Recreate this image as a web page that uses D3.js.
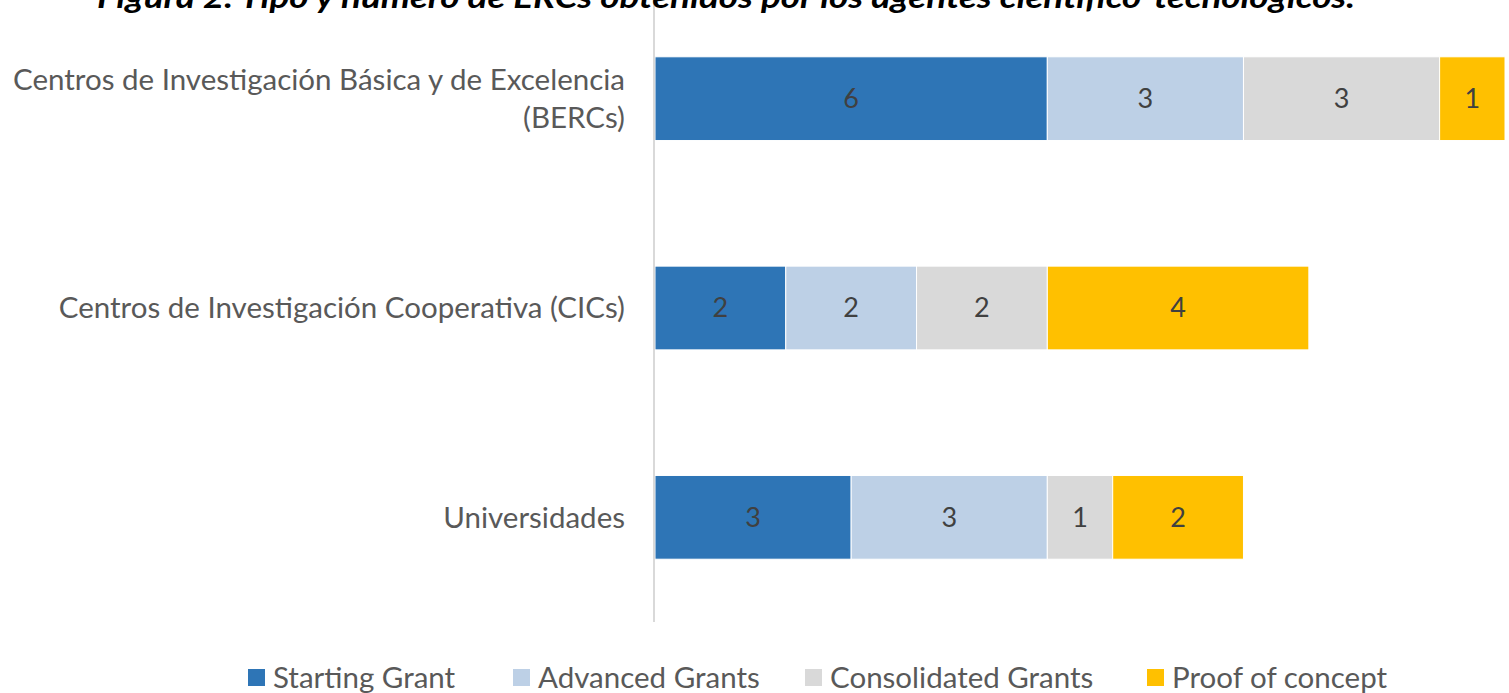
<!DOCTYPE html>
<html>
<head>
<meta charset="utf-8">
<script src="https://cdn.jsdelivr.net/npm/d3@7"></script>
<style>
  body { margin: 0; background: #fff; }
  svg { display: block; }
</style>
</head>
<body>
<div id="chart"></div>
<script>
// categories, series and values
var categories = ["Centros de Investigación Básica y de Excelencia (BERCs)",
                  "Centros de Investigación Cooperativa (CICs)",
                  "Universidades"];
var categoryLines = [["Centros de Investigación Básica y de Excelencia", "(BERCs)"],
                     ["Centros de Investigación Cooperativa (CICs)"],
                     ["Universidades"]];
var seriesNames = ["Starting Grant", "Advanced Grants", "Consolidated Grants", "Proof of concept"];
var seriesColors = ["#2E75B6", "#BDD0E6", "#D9D9D9", "#FFC000"];
var startingGrant = [6, 2, 3];
var advancedGrants = [3, 2, 3];
var consolidatedGrants = [3, 2, 1];
var proofOfConcept = [1, 4, 2];
var title = "Figura 2. Tipo y número de ERCs obtenidos por los agentes científico-tecnológicos.";

var W = 1509, H = 693;
var font = "Lato, 'Open Sans', sans-serif";

var svg = d3.select("#chart").append("svg")
  .attr("width", W).attr("height", H);

// build stacked table
var table = categories.map(function(c, i) {
  return {cat: c, i: i,
    "Starting Grant": startingGrant[i],
    "Advanced Grants": advancedGrants[i],
    "Consolidated Grants": consolidatedGrants[i],
    "Proof of concept": proofOfConcept[i]};
});
var stacked = d3.stack().keys(seriesNames)(table);

var x = d3.scaleLinear().domain([0, 13]).range([655, 1505]);
var y = d3.scaleBand().domain(categories).range([-6, 622]).paddingInner(0.6).paddingOuter(0.3);

// bars
var layers = svg.append("g").selectAll("g")
  .data(stacked).enter().append("g")
    .attr("fill", function(d, i) { return seriesColors[i]; });

layers.selectAll("rect")
  .data(function(d) { return d; })
  .enter().append("rect")
    .attr("x", function(d) { return x(d[0]); })
    .attr("y", function(d) { return y(d.data.cat); })
    .attr("width", function(d) { return x(d[1]) - x(d[0]); })
    .attr("height", y.bandwidth())
    .attr("stroke", "#fff")
    .attr("stroke-width", 1);

// value labels
layers.selectAll("text")
  .data(function(d) { return d; })
  .enter().append("text")
    .attr("x", function(d) { return (x(d[0]) + x(d[1])) / 2; })
    .attr("y", function(d) { return y(d.data.cat) + y.bandwidth() / 2; })
    .attr("dy", "0.35em")
    .attr("text-anchor", "middle")
    .style("font-family", font)
    .style("font-size", "27px")
    .style("fill", "#404040")
    .text(function(d) { return d[1] - d[0]; });

// vertical axis line
svg.append("line")
  .attr("x1", x(0) - 1).attr("x2", x(0) - 1)
  .attr("y1", 0).attr("y2", 622)
  .attr("stroke", "#D9D9D9").attr("stroke-width", 2);

// category labels
var catLabels = svg.append("g").selectAll("text")
  .data(categories).enter().append("text")
    .attr("text-anchor", "end")
    .style("font-family", font)
    .style("font-size", "29.5px")
    .style("fill", "#595959");

catLabels.each(function(c, i) {
  var lines = categoryLines[i];
  var cy = y(c) + y.bandwidth() / 2;
  var lh = 38;
  var t = d3.select(this);
  lines.forEach(function(l, j) {
    t.append("tspan")
      .attr("x", 625)
      .attr("y", cy + (j - (lines.length - 1) / 2) * lh)
      .attr("dy", "0.35em")
      .text(l);
  });
});

// title (cut at the top edge)
svg.append("text")
  .attr("x", 726).attr("y", 8)
  .attr("text-anchor", "middle")
  .style("font-family", font)
  .style("font-size", "30px")
  .style("font-weight", "bold")
  .style("font-style", "italic")
  .style("fill", "#000")
  .attr("textLength", 1258)
  .attr("lengthAdjust", "spacingAndGlyphs")
  .text(title);

// legend
var legendX = [248, 513, 805, 1147];
var legend = svg.append("g").selectAll("g")
  .data(seriesNames).enter().append("g")
    .attr("transform", function(d, i) { return "translate(" + legendX[i] + ",669)"; });
legend.append("rect")
  .attr("width", 17).attr("height", 17)
  .attr("fill", function(d, i) { return seriesColors[i]; });
legend.append("text")
  .attr("x", 25).attr("y", 9).attr("dy", "0.35em")
  .style("font-family", font)
  .style("font-size", "29.5px")
  .style("fill", "#595959")
  .text(function(d) { return d; });
</script>
</body>
</html>
